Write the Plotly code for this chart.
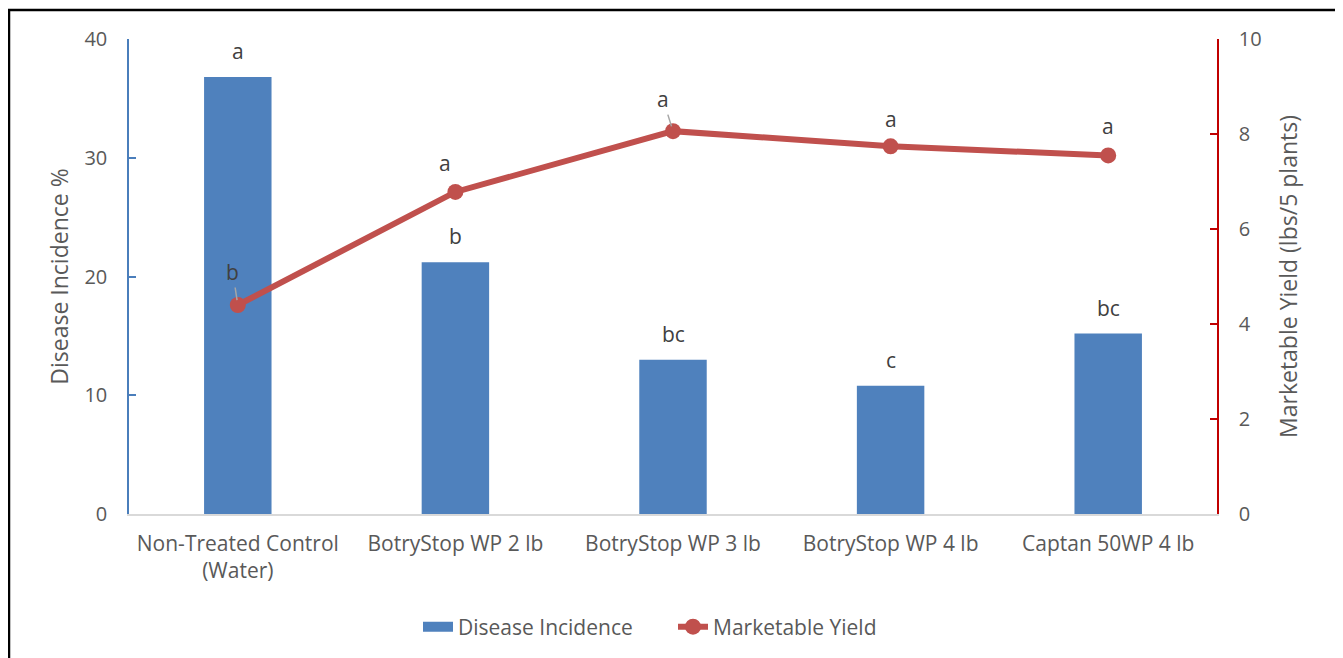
import plotly.graph_objects as go

categories = ["Non-Treated Control (Water)", "BotryStop WP 2 lb", "BotryStop WP 3 lb",
              "BotryStop WP 4 lb", "Captan 50WP 4 lb"]
tick_labels = ["Non-Treated Control<br>(Water)", "BotryStop WP 2 lb", "BotryStop WP 3 lb",
               "BotryStop WP 4 lb", "Captan 50WP 4 lb"]
disease_incidence = [36.8, 21.2, 13.0, 10.8, 15.2]
marketable_yield = [4.4, 6.78, 8.06, 7.74, 7.55]
bar_letters = ["a", "b", "bc", "c", "bc"]
yield_letters = ["b", "a", "a", "a", "a"]

FONT = "Open Sans"
GREY = "#595959"
BAR_C = "#4F81BD"
LINE_C = "#C0504D"

# the page body adds an 8px offset; work in reference pixel coords and subtract it
OFF = 8
W, H = 1343, 658
L = 129 - OFF
T = 39 - OFF
R = W - (1217 - OFF)
B = H - (514 - OFF)

fig = go.Figure()
# legend-only entry giving a wide rectangular swatch for the bars
fig.add_trace(go.Scatter(x=[None], y=[None], mode="lines", name="Disease Incidence",
                         line=dict(color=BAR_C, width=14), showlegend=True,
                         hoverinfo="skip"))
fig.add_trace(go.Bar(x=categories, y=disease_incidence, name="Disease Incidence",
                     marker=dict(color=BAR_C, line=dict(width=0)), width=0.31,
                     yaxis="y", showlegend=False))
fig.add_trace(go.Scatter(x=categories, y=marketable_yield, name="Marketable Yield",
                         mode="lines+markers", line=dict(color=LINE_C, width=6),
                         marker=dict(color=LINE_C, size=16), yaxis="y2"))

LET = dict(family=FONT, size=21, color="#404040")
annotations = []
for c, v, t in zip(categories, disease_incidence, bar_letters):
    annotations.append(dict(x=c, y=v, xref="x", yref="y", text=t, showarrow=False,
                            yanchor="middle", yshift=26, font=LET))

offs = [(-5, -33, True), (-10, -29, False), (-10, -32, True), (0, -27, False), (0, -29, False)]
for c, v, t, (dx, dy, lead) in zip(categories, marketable_yield, yield_letters, offs):
    if lead:
        annotations.append(dict(x=c, y=v, xref="x", yref="y2", text=t, showarrow=True,
                                ax=dx, ay=dy, arrowhead=0, arrowwidth=1.5,
                                arrowcolor="#A6A6A6", standoff=5, font=LET))
    else:
        annotations.append(dict(x=c, y=v, xref="x", yref="y2", text=t, showarrow=False,
                                xshift=dx, yshift=-dy, font=LET))

pw = W - L - R
ph = H - T - B
def px_x(p):
    return (p - OFF - L) / pw
def px_y(p):
    return (H - B - (p - OFF)) / ph

fig.update_layout(
    width=W, height=H,
    margin=dict(l=L, r=R, t=T, b=B),
    paper_bgcolor="white", plot_bgcolor="white",
    font=dict(family=FONT, size=20, color=GREY),
    showlegend=True,
    legend=dict(orientation="h", x=0.5, xanchor="center", y=px_y(627), yanchor="middle",
                font=dict(family=FONT, size=21, color=GREY),
                traceorder="normal", entrywidth=210),
    xaxis=dict(type="category", categoryorder="array", categoryarray=categories,
               range=[-0.5, 4.5],
               tickvals=categories, ticktext=tick_labels, showgrid=False,
               showline=True, linecolor="#D9D9D9", linewidth=1.5, ticks="",
               ticklabelstandoff=10, tickfont=dict(size=21, color=GREY)),
    yaxis=dict(range=[0, 40], dtick=10, showgrid=False, zeroline=False,
               showline=True, linecolor="#4A7EBB", linewidth=1.5,
               ticks="inside", ticklen=7, tickcolor="#4A7EBB", tickwidth=1.5,
               ticklabelstandoff=16, tickfont=dict(size=20, color=GREY),
               title=dict(text="Disease Incidence %", standoff=9,
                          font=dict(size=23, color=GREY))),
    yaxis2=dict(range=[0, 10], dtick=2, overlaying="y", side="right",
                showgrid=False, zeroline=False,
                showline=True, linecolor="#C00000", linewidth=1.5,
                ticks="inside", ticklen=7, tickcolor="#C00000", tickwidth=1.5,
                ticklabelstandoff=16, tickfont=dict(size=20, color=GREY),
                title=dict(text="Marketable Yield (lbs/5 plants)", standoff=20,
                           font=dict(size=23, color=GREY))),
    annotations=annotations,
    shapes=[dict(type="rect", xref="paper", yref="paper",
                 x0=px_x(9), x1=px_x(1337), y0=px_y(720), y1=px_y(10),
                 line=dict(color="black", width=2.5), fillcolor="rgba(0,0,0,0)",
                 layer="below")],
)

fig.write_html("out.html")
